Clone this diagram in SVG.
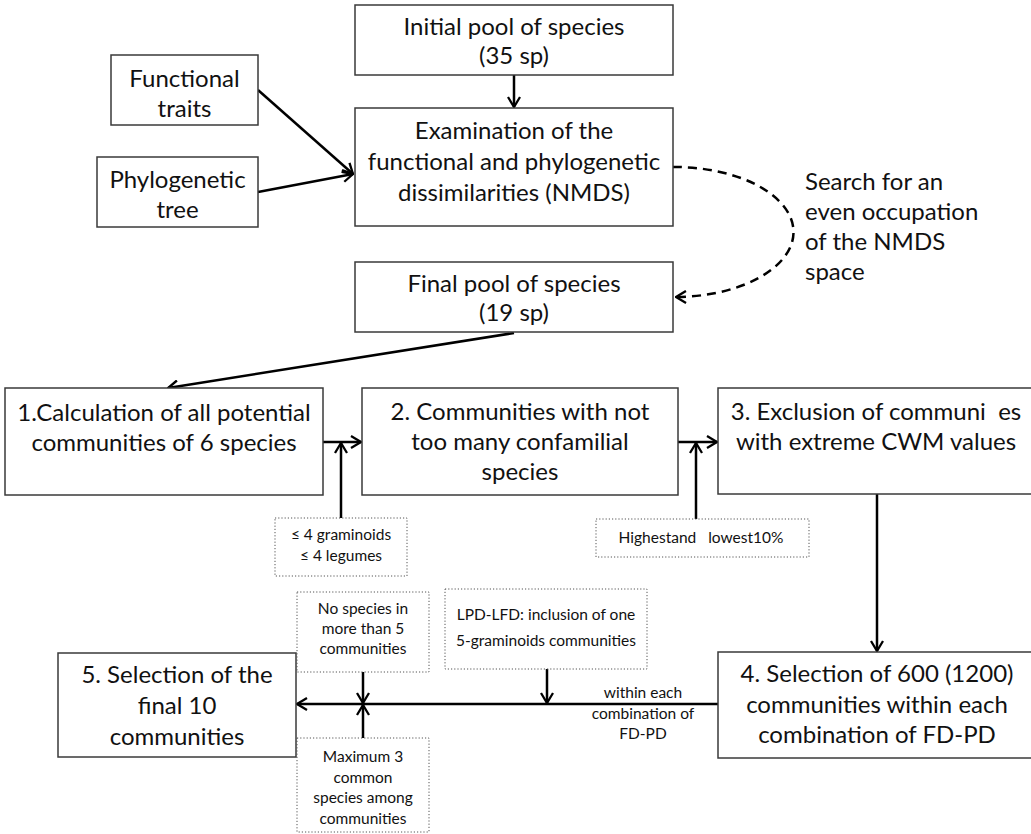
<svg xmlns="http://www.w3.org/2000/svg" width="1031" height="834" viewBox="0 0 1031 834">
<style>
.box{fill:#fff;stroke:#3a3a3a;stroke-width:1.5}
.dbox{fill:#fff;stroke:#555;stroke-width:1;stroke-dasharray:1.2 2}
.t{font-family:Lato,"Liberation Sans",sans-serif;font-size:24px;fill:#111;text-anchor:middle}
.s{font-family:Lato,"Liberation Sans",sans-serif;font-size:15.5px;fill:#111;text-anchor:middle}
.c{fill:none;stroke:#000;stroke-width:2.5}
.d{fill:none;stroke:#000;stroke-width:2.5;stroke-dasharray:9 6}
</style>
<defs>
<marker id="ah" viewBox="0 0 12 14" refX="11" refY="7" markerWidth="12" markerHeight="14" markerUnits="userSpaceOnUse" orient="auto">
<path d="M1,1 L11,7 L1,13" fill="none" stroke="#000" stroke-width="2.3"/>
</marker>
</defs>
<rect width="1031" height="834" fill="#fff"/>

<g id="connectors">
<line class="c" x1="514" y1="75" x2="514" y2="107" marker-end="url(#ah)"/>
<line class="c" x1="258" y1="90" x2="353" y2="174" marker-end="url(#ah)"/>
<line class="c" x1="258" y1="192" x2="353" y2="174" marker-end="url(#ah)"/>
<path class="d" d="M673,167 A119,65 0 0 1 676,297" marker-end="url(#ah)"/>
<line class="c" x1="514" y1="333" x2="168" y2="388" marker-end="url(#ah)"/>
<line class="c" x1="323" y1="442" x2="361" y2="442" marker-end="url(#ah)"/>
<line class="c" x1="341" y1="518" x2="341" y2="443" marker-end="url(#ah)"/>
<line class="c" x1="678" y1="442" x2="717" y2="442" marker-end="url(#ah)"/>
<line class="c" x1="696" y1="519" x2="696" y2="443" marker-end="url(#ah)"/>
<line class="c" x1="877" y1="494" x2="877" y2="651" marker-end="url(#ah)"/>
<line class="c" x1="718" y1="704" x2="297" y2="704" marker-end="url(#ah)"/>
<line class="c" x1="363" y1="672" x2="363" y2="703" marker-end="url(#ah)"/>
<line class="c" x1="363" y1="738" x2="363" y2="705" marker-end="url(#ah)"/>
<line class="c" x1="547" y1="669" x2="547" y2="703" marker-end="url(#ah)"/>
</g>

<g id="initial-pool">
<rect class="box" x="355" y="5" width="318" height="70"/>
<text class="t" x="514" y="35">Initial pool of species</text>
<text class="t" x="514" y="64">(35 sp)</text>
</g>
<g id="functional-traits">
<rect class="box" x="111" y="55" width="147" height="70"/>
<text class="t" x="184.5" y="87">Functional</text>
<text class="t" x="184.5" y="117">traits</text>
</g>
<g id="phylogenetic-tree">
<rect class="box" x="97" y="157" width="161" height="70"/>
<text class="t" x="177.5" y="188">Phylogenetic</text>
<text class="t" x="177.5" y="218">tree</text>
</g>
<g id="examination">
<rect class="box" x="355" y="108" width="318" height="118"/>
<text class="t" x="514" y="139">Examination of the</text>
<text class="t" x="514" y="170">functional and phylogenetic</text>
<text class="t" x="514" y="201">dissimilarities (NMDS)</text>
</g>
<g id="search-label">
<text class="t" x="805" y="190" style="text-anchor:start">Search for an</text>
<text class="t" x="805" y="220" style="text-anchor:start">even occupation</text>
<text class="t" x="805" y="250" style="text-anchor:start">of the NMDS</text>
<text class="t" x="805" y="280" style="text-anchor:start">space</text>
</g>
<g id="final-pool">
<rect class="box" x="355" y="262" width="318" height="70"/>
<text class="t" x="514" y="292">Final pool of species</text>
<text class="t" x="514" y="321">(19 sp)</text>
</g>
<g id="step1">
<rect class="box" x="5" y="388" width="318" height="107"/>
<text class="t" x="164" y="421">1.Calculation of all potential</text>
<text class="t" x="164" y="451">communities of 6 species</text>
</g>
<g id="step2">
<rect class="box" x="362" y="388" width="316" height="107"/>
<text class="t" x="520" y="420">2. Communities with not</text>
<text class="t" x="520" y="450">too many confamilial</text>
<text class="t" x="520" y="480">species</text>
</g>
<g id="step3">
<rect class="box" x="718" y="388" width="330" height="106"/>
<text class="t" x="876" y="420" xml:space="preserve">3. Exclusion of communi  es</text>
<text class="t" x="876" y="450">with extreme CWM values</text>
</g>
<g id="step4">
<rect class="box" x="718" y="652" width="330" height="106"/>
<text class="t" x="877" y="682">4. Selection of 600 (1200)</text>
<text class="t" x="877" y="713">communities within each</text>
<text class="t" x="877" y="743">combination of FD-PD</text>
</g>
<g id="step5">
<rect class="box" x="58" y="653" width="238" height="104"/>
<text class="t" x="177" y="683">5. Selection of the</text>
<text class="t" x="177" y="714">final 10</text>
<text class="t" x="177" y="745">communities</text>
</g>
<g id="constraint-graminoids">
<rect class="dbox" x="275" y="518" width="132" height="58"/>
<text class="s" x="341" y="540">≤ 4 graminoids</text>
<text class="s" x="341" y="561">≤ 4 legumes</text>
</g>
<g id="constraint-cwm">
<rect class="dbox" x="596" y="519" width="213" height="38"/>
<text class="s" x="701" y="543" xml:space="preserve">Highestand   lowest10%</text>
</g>
<g id="constraint-no-species">
<rect class="dbox" x="297" y="592" width="132" height="80"/>
<text class="s" x="363" y="614">No species in</text>
<text class="s" x="363" y="634">more than 5</text>
<text class="s" x="363" y="654">communities</text>
</g>
<g id="constraint-lpd">
<rect class="dbox" x="445" y="589" width="202" height="80"/>
<text class="s" x="546" y="620">LPD-LFD: inclusion of one</text>
<text class="s" x="546" y="646">5-graminoids communities</text>
</g>
<g id="constraint-maximum">
<rect class="dbox" x="297" y="738" width="132" height="94"/>
<text class="s" x="363" y="762">Maximum 3</text>
<text class="s" x="363" y="783">common</text>
<text class="s" x="363" y="803">species among</text>
<text class="s" x="363" y="824">communities</text>
</g>
<g id="edge-label">
<text class="s" x="643" y="698">within each</text>
<text class="s" x="643" y="719">combination of</text>
<text class="s" x="643" y="739">FD-PD</text>
</g>
</svg>
